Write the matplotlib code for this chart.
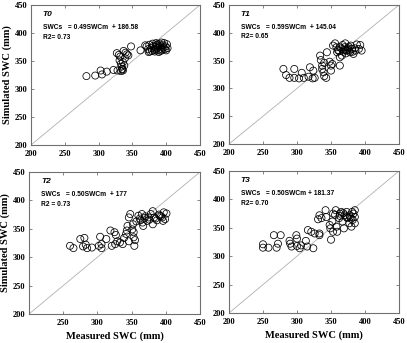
import matplotlib
matplotlib.use("Agg")
import matplotlib.pyplot as plt

panel_labels = ["T0", "T1", "T2", "T3"]
equations = ["SWCs   = 0.49SWCm  + 186.58", "SWCs   = 0.59SWCm  + 145.04",
             "SWCs   = 0.50SWCm  + 177", "SWCs   = 0.50SWCm + 181.37"]
r2_labels = ["R2= 0.73", "R2= 0.65", "R2 = 0.73", "R2= 0.70"]
tick_values = [200, 250, 300, 350, 400, 450]

t0_measured = [282, 295, 303, 305, 312, 322, 328, 333, 335, 336,
               327, 330, 332, 331, 333, 334, 335, 336, 338, 337, 340, 342, 344, 339, 348,
               362, 369, 371, 373, 375, 376, 378, 380, 381, 382, 383, 384, 385, 386, 387,
               388, 389, 390, 391, 392, 393, 394, 395, 396, 397, 398, 399, 400, 401, 402,
               379, 385, 388, 374, 392, 387]
t0_simulated = [323, 324, 333, 326, 331, 334, 333, 332, 335, 333,
                364, 361, 358, 351, 345, 340, 336, 348, 342, 368, 365, 362, 360, 355, 376,
                369, 378, 376, 371, 379, 367, 373, 381, 377, 370, 367, 375, 382, 378, 373,
                369, 366, 380, 376, 372, 383, 370, 378, 374, 382, 371, 376, 369, 380, 373,
                368, 371, 376, 366, 368, 380]

t1_measured = [280, 284, 289, 296, 296, 303, 307, 310, 317, 319, 323, 324, 326,
               334, 335, 337, 337, 339, 340, 343, 340, 344, 348, 350, 350, 352,
               353, 356, 359, 363, 363, 363, 366, 369, 371, 373, 376, 378, 381, 383,
               386, 388, 393, 395, 391, 365, 368, 370, 372, 374, 377, 379, 382, 367,
               371, 375, 360, 358, 385, 362]
t1_simulated = [335, 324, 319, 335, 319, 318, 328, 319, 321, 338, 318, 332, 319,
                359, 351, 341, 335, 329, 322, 319, 346, 365, 348, 341, 332, 344,
                377, 381, 365, 374, 356, 341, 359, 369, 381, 368, 375, 365, 371, 362,
                368, 379, 378, 368, 371, 372, 366, 374, 363, 370, 368, 377, 366, 378,
                370, 372, 369, 374, 372, 367]

t2_measured = [260, 265, 275, 281, 279, 283, 285, 292, 302, 304, 306, 306, 313, 319,
               325, 321, 326, 327, 329, 333, 337, 339, 342, 343, 344, 346, 348, 346,
               351, 352, 353, 353, 355, 354, 357, 360, 363, 365, 367, 369, 373, 375,
               378, 381, 381, 383, 387, 391, 395, 397, 399, 401, 396, 370, 376, 385,
               390, 393, 362, 366]
t2_simulated = [320, 316, 332, 334, 319, 322, 316, 317, 320, 336, 316, 323, 332, 347,
                344, 320, 323, 339, 328, 326, 323, 334, 341, 347, 355, 370, 376, 328,
                349, 358, 344, 335, 330, 320, 363, 373, 365, 376, 355, 369, 364, 370,
                376, 381, 358, 370, 365, 373, 370, 379, 367, 377, 364, 372, 366, 368,
                375, 372, 368, 361]

t3_measured = [250, 250, 258, 266, 270, 272, 276, 289, 290, 292, 299, 300, 300, 304,
               306, 313, 315, 316, 321, 324, 326, 333, 333, 331, 333, 336, 342, 343,
               348, 349, 350, 352, 353, 353, 357, 358, 359, 362, 363, 365, 367, 369,
               370, 373, 374, 377, 378, 380, 381, 382, 383, 385, 385, 385, 363, 373,
               377, 368, 380, 356]
t3_simulated = [321, 315, 315, 337, 315, 322, 337, 327, 322, 317, 337, 331, 318, 314,
                319, 327, 317, 346, 343, 314, 340, 337, 340, 365, 372, 367, 381, 369,
                355, 349, 329, 361, 375, 343, 381, 352, 343, 367, 375, 378, 361, 349,
                372, 378, 367, 358, 369, 352, 378, 364, 375, 369, 358, 381, 371, 369,
                372, 376, 366, 373]

measured = [t0_measured, t1_measured, t2_measured, t3_measured]
simulated = [t0_simulated, t1_simulated, t2_simulated, t3_simulated]

W, H = 407, 343
boxes = [(31, 5, 200, 145), (229, 5, 399, 144), (29, 172, 200, 314), (229, 171, 399, 313)]

fig = plt.figure(figsize=(W / 100, H / 100), dpi=100)
tick_font = dict(family="Liberation Serif", weight="bold", size=6.0)
label_font = dict(family="Liberation Serif", weight="bold", size=7.6)

for i, (x0, y0, x1, y1) in enumerate(boxes):
    ax = fig.add_axes([x0 / W, 1 - y1 / H, (x1 - x0) / W, (y1 - y0) / H])
    ax.plot([200, 450], [200, 450], color="#b0b0b0", lw=0.6, zorder=1)
    ax.scatter(measured[i], simulated[i], s=26, facecolors="none",
               edgecolors="black", linewidths=0.55, zorder=2)
    ax.set_xlim(200, 450)
    ax.set_ylim(200, 450)
    ax.set_xticks(tick_values)
    ax.set_yticks(tick_values)
    xt = [str(v) for v in tick_values]
    if i == 2:
        xt[0] = ""
    ax.set_xticklabels(xt, **tick_font)
    ax.set_yticklabels([str(v) for v in tick_values], **tick_font)
    ax.tick_params(direction="in", length=2, width=0.5, color="#555555",
                   top=True, right=True)
    ax.tick_params(axis="x", pad=3.5)
    ax.tick_params(axis="y", pad=2.5)
    for sp in ax.spines.values():
        sp.set_color("#707070")
        sp.set_linewidth(0.8)
    ax.text(0.07, 0.93, panel_labels[i], transform=ax.transAxes, ha="left", va="center",
            family="Liberation Sans", weight="bold", style="italic", size=6.0)
    ax.text(0.07, 0.84, equations[i], transform=ax.transAxes, ha="left", va="center",
            family="Liberation Sans", weight="bold", size=4.8)
    ax.text(0.07, 0.77, r2_labels[i], transform=ax.transAxes, ha="left", va="center",
            family="Liberation Sans", weight="bold", size=4.8)
    if i in (0, 2):
        ax.set_ylabel("Simulated SWC (mm)", labelpad=2, **label_font)
    if i in (2, 3):
        ax.set_xlabel("Measured SWC (mm)", labelpad=3.5, **label_font)

fig.savefig("out.png", dpi=100)
